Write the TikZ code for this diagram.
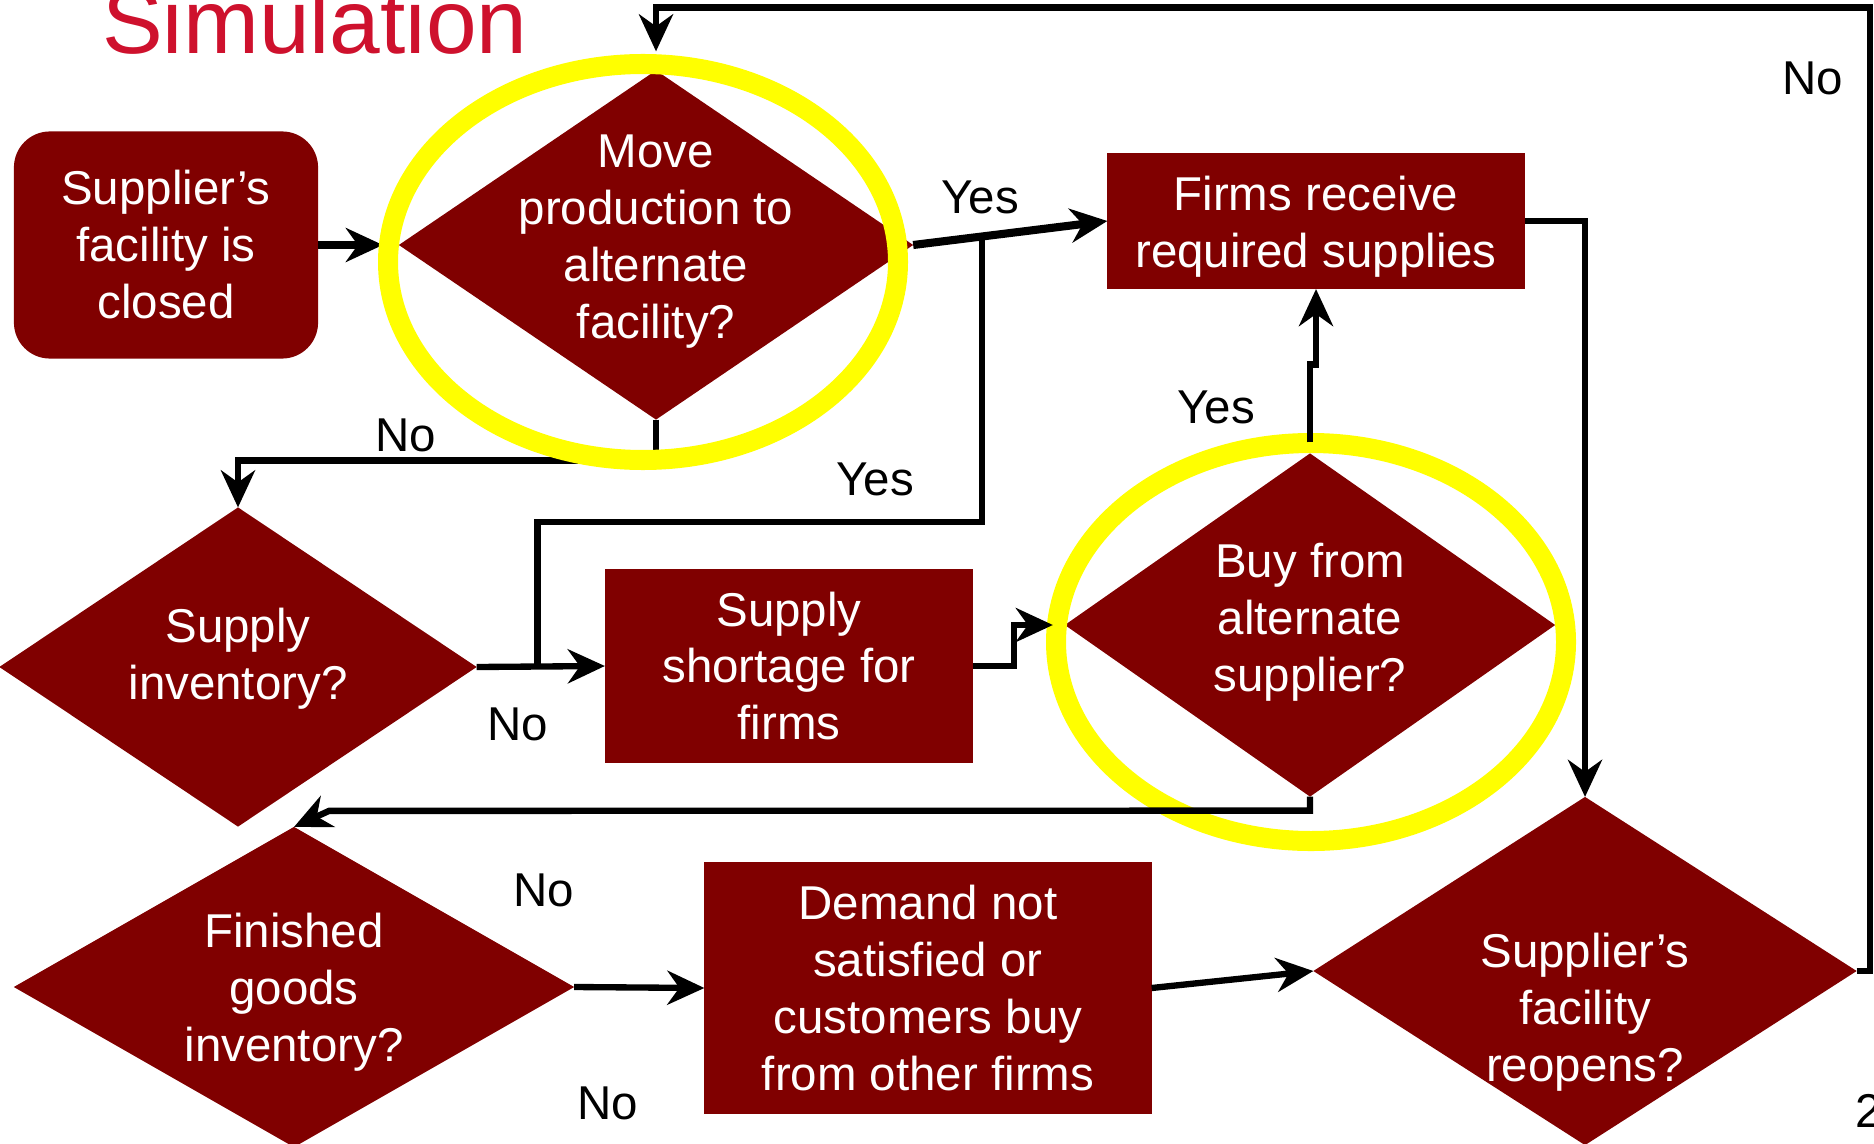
\documentclass[tikz,border=0pt]{standalone}
\usepackage{fontspec}
\setmainfont{Liberation Sans}
\usetikzlibrary{positioning,shapes.geometric,arrows.meta,calc}
\definecolor{boxred}{RGB}{128,0,0}
\definecolor{titlered}{RGB}{206,17,45}
\definecolor{ringyellow}{RGB}{255,255,0}
\tikzset{
  flowtext/.style = {font=\fontsize{13.5}{16.2}\selectfont, align=center},
  procbox/.style  = {shape=rectangle, fill=boxred, text=white,
                     inner sep=0pt, outer sep=0pt, flowtext},
  startbox/.style = {procbox, rounded corners=0.36cm},
  decision/.style = {shape=diamond, fill=boxred, inner sep=0pt, outer sep=0pt},
  dtext/.style    = {text=white, flowtext},
  answer/.style   = {flowtext, anchor=base, inner sep=0pt},
  ring/.style     = {-, draw=ringyellow, line width=0.2cm}
}

\begin{document}
\begin{tikzpicture}[x=0.01cm, y=-0.01cm, ->,
    >={Stealth[length=0.37cm,width=0.34cm,inset=0.12cm]},
    line width=1.8pt]
\useasboundingbox (0,0) rectangle (1874,1143);
\clip (0,0) rectangle (1874,1143);

\node [anchor=base west, text=titlered, inner sep=0pt,
       font=\fontsize{25.9}{31}\selectfont] (title) at (99,54) {Simulation};

% boxes and decisions
\node [startbox, minimum width=3.04cm, minimum height=2.27cm] (closed) at (166,245) {Supplier’s\\facility is\\closed};
\node [decision, minimum width=5.14cm, minimum height=3.49cm,
       label={[dtext, yshift=0.03cm]center:{Move\\production to\\alternate\\facility?}}] (move) at (656,245) {};
\node [procbox, minimum width=4.17cm, minimum height=1.36cm,
       label={[dtext, yshift=-0.06cm]center:{Firms receive\\required supplies}}] (firms) at (1316,221) {};
\node [decision, minimum width=4.77cm, minimum height=3.19cm,
       label={[dtext, yshift=0.08cm]center:{Supply\\inventory?}}] (sinv) at (238,667) {};
\node [procbox, minimum width=3.68cm, minimum height=1.94cm] (short) at (789,666) {Supply\\shortage for\\firms};
\node [decision, minimum width=4.90cm, minimum height=3.43cm,
       label={[dtext, yshift=0.03cm]center:{Buy from\\alternate\\supplier?}}] (buy) at (1310,625) {};
\node [decision, minimum width=5.60cm, minimum height=3.20cm,
       label={[dtext, yshift=-0.05cm]center:{Finished\\goods\\inventory?}}] (fin) at (294,987) {};
\node [procbox, minimum width=4.47cm, minimum height=2.52cm] (demand) at (928,988) {Demand not\\satisfied or\\customers buy\\from other firms};
\node [decision, minimum width=5.43cm, minimum height=3.48cm,
       label={[dtext, yshift=-0.41cm]center:{Supplier’s\\facility\\reopens?}}] (reopen) at (1585,971) {};

\draw [ring] (1311,642) ellipse [x radius=255, y radius=199];

% connectors
\draw [line width=2.3pt, shorten >=0.16cm] (closed.east) -- (move.west);
\draw [line width=2.3pt] (move.east) -- (firms.west);
\coordinate (yesjoin) at ($(move.east)!0.354!(firms.west)$);
\coordinate (nojoin) at ($(sinv.east)+(61,0)$);
\draw [-] (nojoin) -- ++(0,-145) -| (yesjoin);
\draw (move.south) -- ++(0,41) -| (sinv.north);
\draw (sinv.east) -- (short.west);
\draw [shorten >=0.12cm] (short.east) -- ++(41,0) |- (buy.west);
\draw ([yshift=0.11cm]buy.north) -- ++(0,-78) -| (firms.south);
\draw (firms.east) -| (reopen.north);
\draw (buy.south) -- ++(0,14) -- ([xshift=0.35cm,yshift=0.16cm]fin.north) -- (fin.north);
\draw (fin.east) -- (demand.west);
\draw (demand.east) -- (reopen.west);
\draw [shorten >=0.19cm] (reopen.east) -- ++(13,0) |- ([yshift=0.63cm]move.north) -- (move.north);

\draw [ring] (643,262) ellipse [x radius=255, y radius=198];

% answers
\node [answer] (noback)  at (1813,95)   {No};
\node [answer] (yesmove) at (980,214)   {Yes};
\node [answer] (nomove)  at (406,451)   {No};
\node [answer] (yessinv) at (875,495)   {Yes};
\node [answer] (yesbuy)  at (1216,423)  {Yes};
\node [answer] (nosinv)  at (518,740)   {No};
\node [answer] (nofin)   at (544,906)   {No};
\node [answer] (nofinb)  at (608,1119)  {No};
\node [answer, anchor=base west] (pagenum) at (1852,1127) {2};
\end{tikzpicture}
\end{document}
